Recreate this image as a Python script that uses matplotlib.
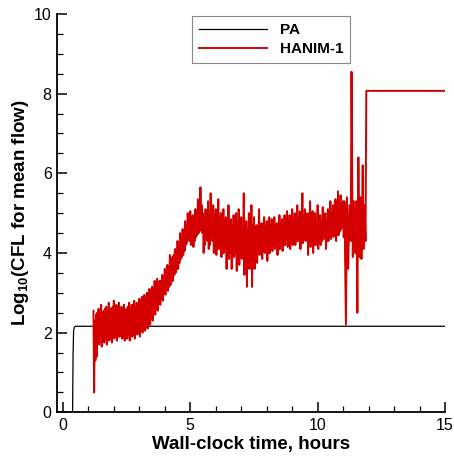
import matplotlib
matplotlib.use("Agg")
import matplotlib.pyplot as plt
from matplotlib.ticker import MultipleLocator

plt.rcParams['font.family'] = ['Liberation Sans', 'DejaVu Sans']
plt.rcParams['mathtext.fontset'] = 'custom'
plt.rcParams['mathtext.bf'] = 'Liberation Sans:bold'
plt.rcParams['mathtext.rm'] = 'Liberation Sans:bold'
plt.rcParams['mathtext.default'] = 'bf'

# ---- PA series ----
pa_t = [0.0, 0.38, 0.40, 0.42, 0.45, 0.50, 15.0]
pa_v = [0.0, 0.0, 1.50, 2.05, 2.14, 2.16, 2.16]

# ---- HANIM-1 series: oscillation extremes read every 0.1 h ----
red_t0 = [1.2, 1.3, 1.4, 1.5, 1.6, 1.7, 1.8, 1.9, 2.0, 2.1, 2.2, 2.3, 2.4, 2.5, 2.6, 2.7, 2.8, 2.9, 3.0,
          3.1, 3.2, 3.3, 3.4, 3.5, 3.6, 3.7, 3.8, 3.9, 4.0,
          4.1, 4.2, 4.3, 4.4, 4.5, 4.6, 4.7, 4.8, 4.9, 5.0,
          5.1, 5.2, 5.3, 5.4, 5.5, 5.6, 5.7, 5.8, 5.9, 6.0,
          6.1, 6.2, 6.3, 6.4, 6.5, 6.6, 6.7, 6.8, 6.9, 7.0,
          7.1, 7.2, 7.3, 7.4, 7.5, 7.6, 7.7, 7.8, 7.9, 8.0,
          8.1, 8.2, 8.3, 8.4, 8.5, 8.6, 8.7, 8.8, 8.9, 9.0,
          9.1, 9.2, 9.3, 9.4, 9.5, 9.6, 9.7, 9.8, 9.9, 10.0,
          10.1, 10.2, 10.3, 10.4, 10.5, 10.6, 10.7, 10.8, 10.9, 11.0]
# outer peaks / troughs
red_hi = [2.55, 2.45, 2.60, 2.70, 2.55, 2.65, 2.75, 2.60, 2.80, 2.70, 2.75, 2.65, 2.70, 2.60, 2.75, 2.70, 2.80, 2.75, 2.85,
          2.90, 2.95, 3.00, 3.10, 3.15, 3.30, 3.35, 3.30, 3.45, 3.60,
          3.70, 3.95, 3.90, 4.10, 4.30, 4.50, 4.60, 4.80, 5.00, 5.05,
          4.95, 5.10, 5.35, 5.65, 5.00, 5.10, 5.30, 5.50, 5.20, 5.10,
          5.35, 5.00, 5.10, 4.90, 5.20, 4.85, 4.95, 5.00, 5.10, 4.90,
          5.50, 4.80, 5.00, 5.20, 4.90, 4.70, 5.10, 4.75, 4.90, 4.80,
          4.90, 4.85, 4.90, 4.75, 4.95, 4.85, 4.95, 5.05, 4.95, 5.10,
          5.00, 5.20, 5.05, 5.50, 5.10, 5.00, 5.30, 5.05, 5.00, 5.20,
          4.95, 5.15, 5.00, 5.10, 5.30, 5.20, 5.35, 5.55, 5.45, 5.30]
red_lo = [0.50, 1.40, 1.70, 1.65, 1.75, 1.70, 1.80, 1.75, 1.85, 1.80, 1.90, 1.85, 1.80, 1.85, 1.80, 1.90, 1.85, 1.95, 1.90,
          2.00, 2.05, 2.10, 2.20, 2.30, 2.45, 2.55, 2.70, 2.80, 2.95,
          3.05, 3.20, 3.30, 3.50, 3.60, 3.85, 3.95, 4.20, 4.35, 4.20,
          4.15, 4.40, 4.50, 4.60, 4.00, 4.35, 4.10, 4.40, 4.00, 3.95,
          4.10, 3.90, 4.00, 3.60, 3.85, 3.60, 3.90, 3.55, 3.70, 3.85,
          3.45, 3.15, 3.60, 3.15, 3.60, 3.75, 3.95, 3.85, 4.00, 3.80,
          4.00, 4.05, 4.10, 3.95, 4.10, 4.05, 4.20, 4.15, 4.10, 4.20,
          4.20, 4.30, 4.10, 4.25, 4.30, 3.95, 4.15, 4.00, 4.20, 4.10,
          4.20, 4.35, 4.10, 4.30, 4.35, 4.40, 4.30, 4.45, 4.60, 4.40]
# inner (smaller) peaks / troughs in between
red_hi2 = [2.30, 2.50, 2.55, 2.50, 2.60, 2.55, 2.60, 2.65, 2.60, 2.65, 2.60, 2.60, 2.55, 2.65, 2.60, 2.70, 2.65, 2.70, 2.80,
           2.80, 2.85, 2.95, 3.00, 3.10, 3.20, 3.25, 3.30, 3.40, 3.50,
           3.60, 3.80, 3.95, 4.05, 4.20, 4.40, 4.55, 4.70, 4.85, 4.90,
           4.90, 5.00, 5.10, 5.20, 4.90, 5.00, 4.95, 5.10, 4.95, 4.90,
           4.90, 4.80, 4.85, 4.70, 4.80, 4.70, 4.75, 4.80, 4.70, 4.60,
           4.70, 4.60, 4.65, 4.70, 4.60, 4.55, 4.70, 4.60, 4.65, 4.60,
           4.70, 4.65, 4.70, 4.60, 4.75, 4.70, 4.75, 4.80, 4.75, 4.85,
           4.85, 4.90, 4.80, 4.95, 4.85, 4.80, 4.90, 4.80, 4.80, 4.85,
           4.80, 4.90, 4.85, 4.90, 5.00, 4.95, 5.05, 5.10, 5.10, 5.00]
red_lo2 = [1.30, 1.75, 1.80, 1.80, 1.85, 1.85, 1.90, 1.90, 1.95, 1.90, 1.95, 1.90, 1.90, 1.95, 1.95, 1.95, 2.00, 2.00, 2.05,
           2.10, 2.15, 2.25, 2.35, 2.50, 2.60, 2.75, 2.85, 3.00, 3.10,
           3.15, 3.30, 3.45, 3.60, 3.75, 3.90, 4.05, 4.25, 4.30, 4.30,
           4.30, 4.45, 4.55, 4.50, 4.20, 4.30, 4.20, 4.30, 4.10, 4.10,
           4.15, 4.00, 4.10, 3.90, 4.00, 3.90, 4.00, 3.85, 3.90, 4.00,
           3.90, 3.70, 3.90, 3.80, 3.90, 4.00, 4.10, 4.05, 4.10, 4.00,
           4.15, 4.20, 4.20, 4.10, 4.20, 4.20, 4.30, 4.25, 4.25, 4.30,
           4.30, 4.35, 4.25, 4.35, 4.35, 4.20, 4.30, 4.20, 4.30, 4.25,
           4.30, 4.40, 4.30, 4.40, 4.45, 4.50, 4.45, 4.55, 4.65, 4.50]
# final unstable part and plateau
tail_t = [11.05, 11.11, 11.15, 11.20, 11.25, 11.30, 11.33, 11.38, 11.42, 11.47, 11.52, 11.56, 11.60,
          11.64, 11.68, 11.72, 11.77, 11.80, 11.84, 11.88, 11.91, 15.0]
tail_v = [5.30, 2.20, 5.40, 3.60, 5.20, 4.30, 8.55, 3.90, 5.30, 4.00, 5.30, 2.50, 6.40,
          3.90, 5.40, 3.85, 6.20, 4.10, 5.20, 4.30, 8.07, 8.07]

red_t, red_v = [], []
for t, h, l, h2, l2 in zip(red_t0, red_hi, red_lo, red_hi2, red_lo2):
    red_t += [t, t + 0.025, t + 0.05, t + 0.075]
    red_v += [h, l, h2, l2]
red_t += tail_t
red_v += tail_v

fig = plt.figure(figsize=(4.54, 4.57), dpi=100)
ax = fig.add_axes([57.3 / 454, 1 - 412.3 / 457, (445 - 57.3) / 454, (412.3 - 14) / 457])

ax.plot(pa_t, pa_v, color='black', lw=0.9, label='PA')
ax.plot(red_t, red_v, color='#d40000', lw=1.4, label='HANIM-1')

ax.set_xlim(-0.22, 15)
ax.set_ylim(0, 10)
ax.xaxis.set_major_locator(MultipleLocator(5))
ax.xaxis.set_minor_locator(MultipleLocator(1))
ax.yaxis.set_major_locator(MultipleLocator(2))
ax.yaxis.set_minor_locator(MultipleLocator(0.5))
ax.tick_params(which='major', direction='in', length=7, width=1.1, labelsize=11.5, pad=4)
ax.tick_params(which='minor', direction='in', length=4, width=0.9)
for s in ['top', 'right']:
    ax.spines[s].set_visible(False)
for s in ['left', 'bottom']:
    ax.spines[s].set_linewidth(1.3)

ax.set_xlabel('Wall-clock time, hours', fontsize=13.5, fontweight='bold', labelpad=2)
ax.set_ylabel(r'Log$_{10}$(CFL for mean flow)', fontsize=13.5, fontweight='bold', labelpad=2)

leg = ax.legend(loc='upper left', bbox_to_anchor=(0.347, 0.995), borderaxespad=0, fancybox=False,
                framealpha=1, edgecolor='#888888', prop={'weight': 'bold', 'size': 11},
                handlelength=4.5, handletextpad=0.8, borderpad=0.45, labelspacing=0.35)
leg.get_frame().set_linewidth(0.8)

fig.savefig('out.png', dpi=100)
